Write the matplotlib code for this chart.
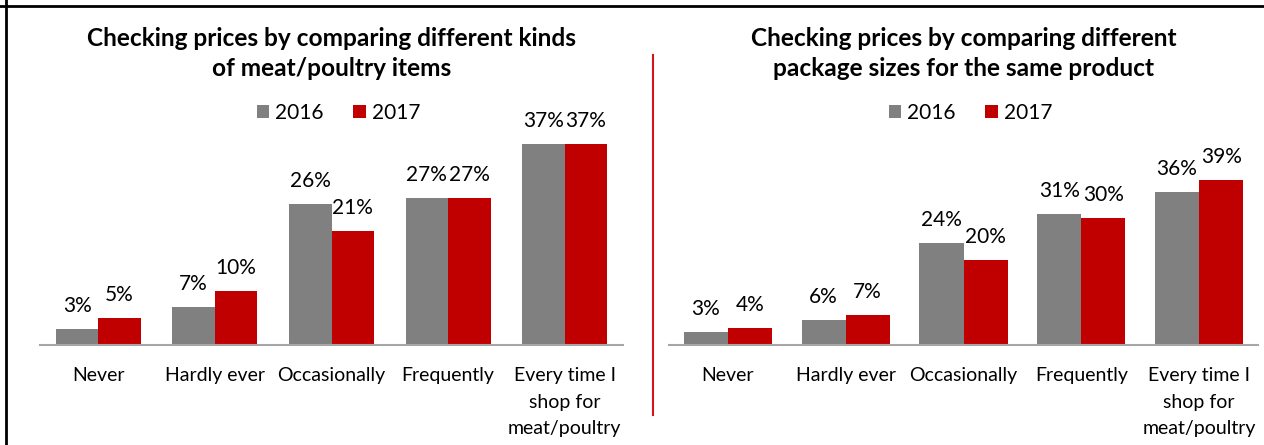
import matplotlib
matplotlib.use("Agg")
import matplotlib.pyplot as plt
from matplotlib.patches import Patch
from matplotlib.lines import Line2D
import numpy as np

plt.rcParams['font.family'] = ['Lato', 'DejaVu Sans']

categories = ["Never", "Hardly ever", "Occasionally", "Frequently",
              "Every time I\nshop for\nmeat/poultry"]
years = ["2016", "2017"]

kinds_2016 = [3, 7, 26, 27, 37]
kinds_2017 = [5, 10, 21, 27, 37]

sizes_2016 = [3, 6, 24, 31, 36]
sizes_2017 = [4, 7, 20, 30, 39]

title_kinds = "Checking prices by comparing different kinds\nof meat/poultry items"
title_sizes = "Checking prices by comparing different\npackage sizes for the same product"

GRAY = "#808080"
RED = "#C00000"

W, H = 1264, 445
fig = plt.figure(figsize=(W / 100, H / 100), dpi=100)


def px_axes(x0, x1, base, px_per_unit, ymax=40):
    height = ymax * px_per_unit
    return fig.add_axes([x0 / W, (H - base) / H, (x1 - x0) / W, height / H])


def draw_panel(ax, v16, v17, bar_w, title, title_y, legend_y):
    x = np.arange(len(categories))
    b1 = ax.bar(x - bar_w / 2, v16, bar_w, color=GRAY, zorder=2)
    b2 = ax.bar(x + bar_w / 2, v17, bar_w, color=RED, zorder=2)
    for bars, vals in ((b1, v16), (b2, v17)):
        for rect, v in zip(bars, vals):
            ax.annotate(f"{v}%", (rect.get_x() + rect.get_width() / 2, v),
                        xytext=(0, 12.2), textcoords="offset points",
                        ha="center", va="baseline", fontsize=15,
                        color="#000000", annotation_clip=False)
    ax.set_xlim(-0.5, len(categories) - 0.5)
    ax.set_ylim(0, 40)
    for side in ("top", "right", "left"):
        ax.spines[side].set_visible(False)
    ax.spines["bottom"].set_color("#A6A6A6")
    ax.spines["bottom"].set_linewidth(1.5)
    ax.set_yticks([])
    ax.set_xticks(x)
    ax.set_xticklabels(categories, fontsize=14, linespacing=1.68)
    ax.tick_params(axis="x", length=0, pad=16)

    pos = ax.get_position()
    cx = pos.x0 + pos.width / 2
    fig.text(cx, title_y, title, ha="center", va="center", fontsize=17.6,
             fontweight="bold", linespacing=1.42)
    handles = [Patch(facecolor=GRAY), Patch(facecolor=RED)]
    fig.legend(handles, years, loc="center",
               bbox_to_anchor=(cx + 7 / W, legend_y),
               ncol=2, frameon=False, fontsize=15, handlelength=0.6,
               handleheight=0.6, handletextpad=0.3, columnspacing=1.4)


ax1 = px_axes(40, 623, 345, 5.43)
ax2 = px_axes(669, 1258, 345, 4.24)

draw_panel(ax1, kinds_2016, kinds_2017, 0.364, title_kinds, 1 - 53.5 / H, 1 - 113 / H)
draw_panel(ax2, sizes_2016, sizes_2017, 0.374, title_sizes, 1 - 53.5 / H, 1 - 113 / H)

# outer frame (top and left edges) and the red divider between the panels
fig.add_artist(Line2D([0, 1], [1 - 6 / H, 1 - 6 / H], color="#000000", lw=2,
                      transform=fig.transFigure))
fig.add_artist(Line2D([6 / W, 6 / W], [0, 1], color="#000000", lw=2,
                      transform=fig.transFigure))
fig.add_artist(Line2D([652.5 / W, 652.5 / W], [1 - 55 / H, 1 - 415 / H],
                      color="#D4161C", lw=1.5, transform=fig.transFigure))

fig.savefig("out.png", dpi=100, facecolor="white")
